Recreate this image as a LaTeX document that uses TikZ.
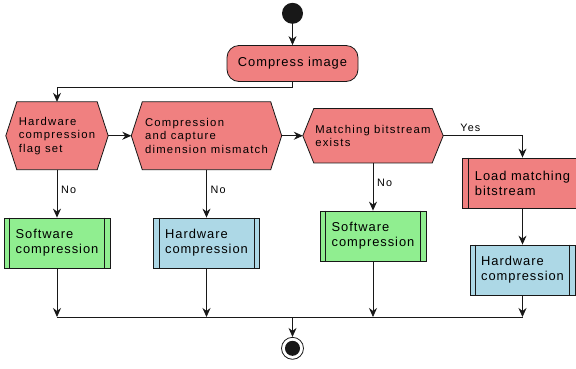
\documentclass[tikz,border=0pt]{standalone}
\usepackage{fontspec}
\setmainfont{Liberation Sans}
\newfontfamily\hexface[LetterSpace=11]{Liberation Sans}
\newfontfamily\boxface[LetterSpace=7.5]{Liberation Sans}
\usetikzlibrary{arrows.meta,backgrounds,calc}

\definecolor{ink}{HTML}{181818}
\definecolor{actred}{HTML}{F08080}
\definecolor{swgreen}{HTML}{90EE90}
\definecolor{hwblue}{HTML}{ADD8E6}

\newcommand\hexfont{\hexface\fontsize{11.3}{13.5}\selectfont}
\newcommand\boxfont{\boxface\fontsize{12.9}{15}\selectfont}
\newcommand\lblfont{\hexface\fontsize{10.8}{13}\selectfont}

% hexagonal outline behind a decision node
\newcommand\hexoutline[1]{%
  \path[hexpath] (#1.west) -- ([xshift=11pt]#1.north west) -- ([xshift=-11pt]#1.north east)
    -- (#1.east) -- ([xshift=-11pt]#1.south east) -- ([xshift=11pt]#1.south west) -- cycle;}
% double side bars of a sub-process box
\newcommand\sidebars[1]{%
  \draw[wire] ([xshift=6pt]#1.north west) -- ([xshift=6pt]#1.south west)
              ([xshift=-6pt]#1.north east) -- ([xshift=-6pt]#1.south east);}

\tikzset{
  wire/.style={draw=ink, line width=0.8pt},
  flow/.style={wire, -{Stealth[length=9pt,width=8pt,inset=3pt]}},
  hexpath/.style={wire, fill=actred},
  decision/.style={rectangle, inner xsep=6pt, inner ysep=0pt, align=left, font=\hexfont},
  action/.style={rectangle, draw=ink, line width=0.8pt, fill=actred, inner xsep=6pt,
    align=left, font=\boxfont},
  subproc/.style={action, minimum height=50pt},
  lbl/.style={inner sep=0pt, font=\lblfont},
  startdot/.style={circle, fill=ink, minimum size=21pt, inner sep=0pt},
  enddot/.style={circle, draw=ink, line width=0.8pt, fill=white, minimum size=22pt, inner sep=0pt},
}

\begin{document}
\begin{tikzpicture}[x=1pt,y=-1pt]
\clip (0,0) rectangle (576,368);

% nodes
\node[startdot] (start) at (292.5,13.3) {};
\node[action, rounded corners=12pt, minimum width=131pt, minimum height=36pt] (compress) at (292.5,63.5) {Compress image};

\node[decision, minimum width=102pt, minimum height=67.5pt] (flag) at (57,135.75) {Hardware\\compression\\flag set};
\node[decision, minimum width=150pt, minimum height=67.5pt] (mismatch) at (206.5,135.75) {Compression\\and capture\\dimension mismatch};
\node[decision, minimum width=140pt, minimum height=54pt] (match) at (373,135.75) {Matching bitstream\\exists};

\node[subproc, fill=swgreen, minimum width=106pt] (sw1) at (57,243) {Software\\compression};
\node[subproc, fill=hwblue, minimum width=106pt] (hw2) at (206.5,243) {Hardware\\compression};
\node[subproc, fill=swgreen, minimum width=106pt] (sw3) at (373,236) {Software\\compression};
\node[subproc, fill=actred, minimum width=120pt] (load) at (522.5,183) {Load matching\\bitstream};
\node[subproc, fill=hwblue, minimum width=105pt] (hw3) at (522.5,270) {Hardware\\compression};

\node[enddot] (stop) at (292.5,348.3) {};
\fill[ink] (stop.center) circle[radius=7.5pt];

\begin{scope}[on background layer]
  \hexoutline{flag}
  \hexoutline{mismatch}
  \hexoutline{match}
\end{scope}

\sidebars{sw1}
\sidebars{hw2}
\sidebars{sw3}
\sidebars{load}
\sidebars{hw3}

% connectors
\coordinate (split) at (292.5,87);
\coordinate (joinL) at (57,317);
\coordinate (joinR) at (522.5,317);
\coordinate (join) at (292.5,317);

\draw[flow] (start) -- (compress.north);
\draw[flow] (compress.south) -- (split) -| (flag.north);
\draw[flow] (flag.east) -- (mismatch.west);
\draw[flow] (mismatch.east) -- (match.west);
\draw[flow] (match.east) -| (load.north);
\node[lbl, anchor=west] at ([shift={(17,-8)}]match.east) {Yes};
\draw[flow] (load.south) -- (hw3.north);

\draw[flow] (flag.south) -- (sw1.north);
\node[lbl, anchor=west] at ([shift={(4,20)}]flag.south) {No};
\draw[flow] (mismatch.south) -- (hw2.north);
\node[lbl, anchor=west] at ([shift={(4,20)}]mismatch.south) {No};
\draw[flow] (match.south) -- (sw3.north);
\node[lbl, anchor=west] at ([shift={(4,20)}]match.south) {No};

\draw[wire] (joinL) -- (joinR);
\draw[flow] (sw1.south) -- (sw1.south |- join);
\draw[flow] (hw2.south) -- (hw2.south |- join);
\draw[flow] (sw3.south) -- (sw3.south |- join);
\draw[flow] (hw3.south) -- (hw3.south |- join);
\draw[flow] (join) -- (stop.north);
\end{tikzpicture}
\end{document}
